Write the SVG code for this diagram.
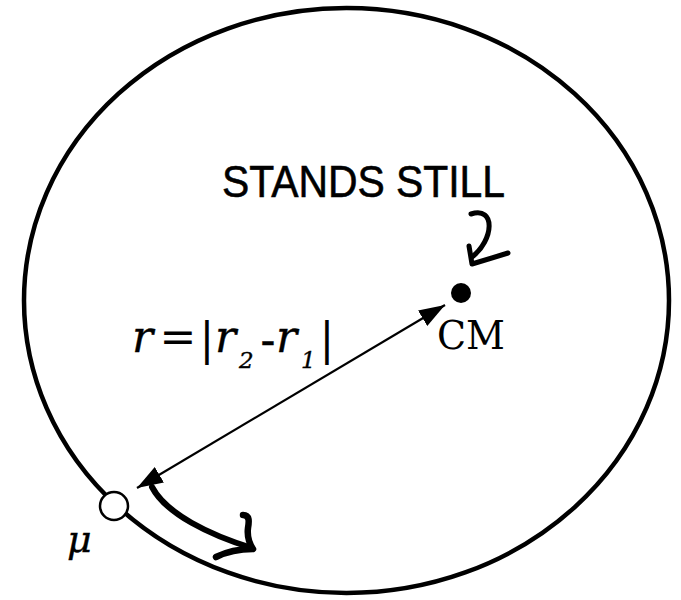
<svg xmlns="http://www.w3.org/2000/svg" width="681" height="600" viewBox="0 0 681 600">
<style>
.serif{font-family:"DejaVu Serif","Liberation Serif",serif;fill:#000}
.it{font-style:italic}
.heavy{stroke:#000;stroke-width:0.4}
.hand{font-family:"Liberation Sans","DejaVu Sans",sans-serif;fill:#000}
.thick{fill:none;stroke:#000;stroke-linecap:round;stroke-linejoin:round}
</style>
<defs>
<marker id="ah" markerUnits="userSpaceOnUse" markerWidth="26" markerHeight="18" refX="26" refY="9" orient="auto-start-reverse" viewBox="0 0 26 18">
<path d="M0,0 L26,9 L0,18 z" fill="#000"/>
</marker>
</defs>
<rect width="681" height="600" fill="#fff"/>
<g id="orbit">
<ellipse cx="346.5" cy="300.5" rx="322.5" ry="292.5" fill="none" stroke="#000" stroke-width="4.5"/>
</g>
<g id="connectors">
<line x1="137" y1="488" x2="445" y2="305" stroke="#000" stroke-width="2.2" marker-start="url(#ah)" marker-end="url(#ah)"/>
<path class="thick" stroke-width="5" d="M471,214 C496,206 494,240 472,257"/>
<path class="thick" stroke-width="5" d="M469,246 L472,264 L508,253"/>
<path class="thick" stroke-width="6" d="M152,487 C166,514 210,535 252,548"/>
<path class="thick" stroke-width="6.5" d="M243,515 C250,515 249,522 248,528 C247,536 249,543 253,549 C240,549 226,552 216,557"/>
</g>
<g id="cm">
<circle cx="461" cy="293" r="10" fill="#000"/>
<text class="serif" x="437" y="349" font-size="40" textLength="68" lengthAdjust="spacingAndGlyphs">CM</text>
</g>
<g id="mu">
<circle cx="114" cy="506" r="14" fill="#fff" stroke="#000" stroke-width="2.5"/>
<text class="serif it heavy" x="67" y="552" font-size="38">μ</text>
</g>
<g id="labels">
<text class="hand" x="222" y="197" font-size="44" textLength="283" lengthAdjust="spacingAndGlyphs" stroke="#000" stroke-width="0.6">STANDS STILL</text>
<text class="serif heavy" font-size="44"><tspan class="it" x="132" y="352">r</tspan><tspan x="178" y="352" text-anchor="middle" stroke-width="0">=</tspan><tspan x="207" y="354" text-anchor="middle" stroke-width="0">|</tspan><tspan class="it" x="215" y="352">r</tspan><tspan class="it" x="239" y="368" font-size="23">2</tspan><tspan x="268" y="355" text-anchor="middle">-</tspan><tspan class="it" x="276" y="352">r</tspan><tspan class="it" x="301" y="368" font-size="23">1</tspan><tspan x="327" y="354" text-anchor="middle" stroke-width="0">|</tspan></text>
</g>
</svg>
